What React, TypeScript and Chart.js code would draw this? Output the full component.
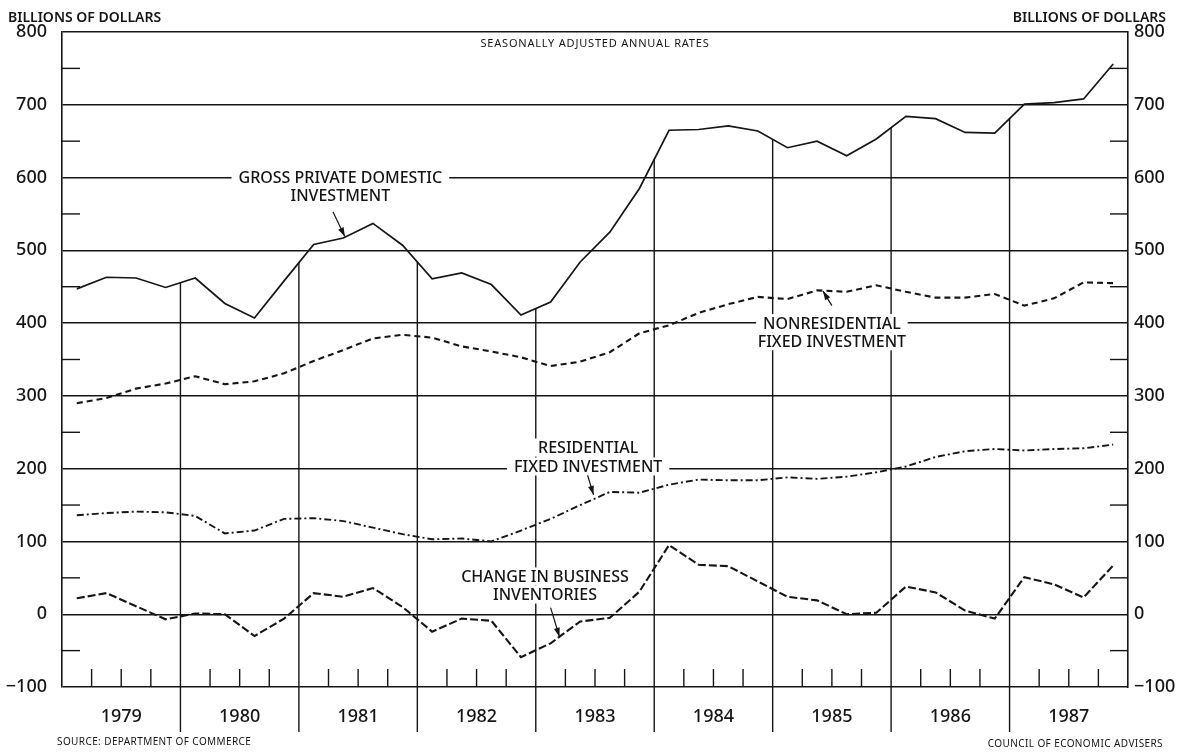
import React, { useEffect, useRef } from "react";
import { Chart, registerables } from "chart.js";

Chart.register(...registerables);

// ---- data (billions of dollars, seasonally adjusted annual rates, quarterly 1979Q1..1987Q4)
const years = ["1979", "1980", "1981", "1982", "1983", "1984", "1985", "1986", "1987"];
const gpdi = [
  447, 463, 462, 449, 462, 427, 407, 458, 508, 517, 537, 507, 461, 469, 453, 411, 429, 484,
  525, 585, 665, 666, 671, 664, 641, 650, 630, 653, 684, 681, 662, 661, 701, 703, 708, 756,
];
const nonres = [
  290, 297, 310, 317, 327, 316, 320, 331, 348, 363, 379, 384, 380, 368, 361, 353, 341, 347,
  360, 386, 397, 414, 426, 436, 433, 445, 443, 452, 443, 435, 435, 440, 424, 434, 456, 455,
];
const resid = [
  136, 139, 141, 140, 135, 111, 115, 131, 132, 128, 119, 110, 103, 104, 100, 115, 131, 150,
  168, 167, 178, 185, 184, 184, 188, 186, 189, 195, 203, 216, 224, 227, 225, 227, 228, 233,
];
const cbi = [
  22, 29, 11, -7, 1, 0, -30, -6, 29, 24, 36, 10, -24, -6, -9, -59, -40, -10, -5, 31, 95, 68,
  66, 45, 24, 19, 0, 2, 38, 30, 5, -6, 51, 41, 23, 67,
];
const yTickValues = [-100, 0, 100, 200, 300, 400, 500, 600, 700, 800];

// annotation anchors in data units (x = quarter index, y = billions)
const noteLabels = [
  { text: "GROSS PRIVATE DOMESTIC", x: 9.4, y: 600 },
  { text: "INVESTMENT", x: 9.4, y: 575 },
  { text: "NONRESIDENTIAL", x: 26.0, y: 400 },
  { text: "FIXED INVESTMENT", x: 26.0, y: 375 },
  { text: "RESIDENTIAL", x: 17.77, y: 229 },
  { text: "FIXED INVESTMENT", x: 17.77, y: 203 },
  { text: "CHANGE IN BUSINESS", x: 16.31, y: 52 },
  { text: "INVENTORIES", x: 16.31, y: 27 },
];
const noteArrows = [
  { from: [9.15, 553], to: [9.55, 519] },
  { from: [26.0, 424], to: [25.7, 444] },
  { from: [17.75, 191], to: [17.95, 164] },
  { from: [16.5, 9], to: [16.8, -31] },
];

const INK = "#151515";
const FONT = "'Noto Sans', 'Open Sans', 'DejaVu Sans', sans-serif";
const QUARTERS = years.length * 4;

const toPoints = (arr: number[]) => arr.map((v, i) => ({ x: i + 0.5, y: v }));

const decorPlugin = {
  id: "decor",
  beforeDatasetsDraw(chart: any) {
    const { ctx, chartArea: ca, scales } = chart;
    const xs = scales.x;
    const ys = scales.y;
    const line = (x1: number, y1: number, x2: number, y2: number) => {
      ctx.beginPath();
      ctx.moveTo(x1, y1);
      ctx.lineTo(x2, y2);
      ctx.stroke();
    };
    ctx.save();
    ctx.strokeStyle = INK;
    ctx.lineWidth = 1.4;
    // minor ticks at the 50s, left and right
    for (let v = -50; v < 800; v += 100) {
      const y = ys.getPixelForValue(v);
      line(ca.left, y, ca.left + 18, y);
      line(ca.right - 18, y, ca.right, y);
    }
    // quarter ticks along the bottom
    for (let q = 1; q < QUARTERS; q++) {
      if (q % 4 === 0) continue;
      const x = xs.getPixelForValue(q);
      line(x, ca.bottom, x, ca.bottom - 18);
    }
    // year separators: from below the axis up to the GPDI line
    for (let k = 1; k < years.length; k++) {
      const q = k * 4;
      const v = (gpdi[q - 1] + gpdi[q]) / 2;
      const x = xs.getPixelForValue(q);
      line(x, ys.getPixelForValue(v), x, ca.bottom + 45);
    }
    // year labels
    ctx.fillStyle = INK;
    ctx.font = `500 18px ${FONT}`;
    ctx.textAlign = "center";
    ctx.textBaseline = "middle";
    years.forEach((yr, k) => {
      ctx.fillText(yr, xs.getPixelForValue(k * 4 + 2), ca.bottom + 30);
    });
    // annotation labels with white backgrounds
    ctx.font = `500 16px ${FONT}`;
    noteLabels.forEach((n) => {
      const x = xs.getPixelForValue(n.x);
      const y = ys.getPixelForValue(n.y);
      const w = ctx.measureText(n.text).width;
      ctx.fillStyle = "#ffffff";
      ctx.fillRect(x - w / 2 - 7, y - 9, w + 14, 18);
      ctx.fillStyle = INK;
      ctx.fillText(n.text, x, y + 1);
    });
    // arrows
    ctx.lineWidth = 1.2;
    noteArrows.forEach((a) => {
      const x1 = xs.getPixelForValue(a.from[0]);
      const y1 = ys.getPixelForValue(a.from[1]);
      const x2 = xs.getPixelForValue(a.to[0]);
      const y2 = ys.getPixelForValue(a.to[1]);
      line(x1, y1, x2, y2);
      const ang = Math.atan2(y2 - y1, x2 - x1);
      const L = 9;
      const W = 3;
      ctx.beginPath();
      ctx.moveTo(x2, y2);
      ctx.lineTo(x2 - L * Math.cos(ang) + W * Math.sin(ang), y2 - L * Math.sin(ang) - W * Math.cos(ang));
      ctx.lineTo(x2 - L * Math.cos(ang) - W * Math.sin(ang), y2 - L * Math.sin(ang) + W * Math.cos(ang));
      ctx.closePath();
      ctx.fill();
    });
    ctx.restore();
  },
  afterDraw(chart: any) {
    const { ctx, chartArea: ca } = chart;
    ctx.save();
    ctx.fillStyle = INK;
    ctx.textBaseline = "middle";
    ctx.font = `600 14px ${FONT}`;
    ctx.textAlign = "left";
    ctx.fillText("BILLIONS OF DOLLARS", 8, 18);
    ctx.textAlign = "right";
    ctx.fillText("BILLIONS OF DOLLARS", 1166, 18);
    ctx.font = `11px ${FONT}`;
    (ctx as any).letterSpacing = "0.8px";
    ctx.textAlign = "center";
    ctx.fillText("SEASONALLY ADJUSTED ANNUAL RATES", (ca.left + ca.right) / 2, ca.top + 12);
    ctx.font = `10px ${FONT}`;
    (ctx as any).letterSpacing = "0.4px";
    ctx.textAlign = "left";
    ctx.fillText("SOURCE: DEPARTMENT OF COMMERCE", 57, 742);
    ctx.textAlign = "right";
    ctx.fillText("COUNCIL OF ECONOMIC ADVISERS", 1163, 744);
    ctx.restore();
  },
};

const fmt = (v: any) => (Number(v) < 0 ? "\u2212" + Math.abs(Number(v)) : String(v));

export default function App() {
  const ref = useRef<HTMLCanvasElement | null>(null);
  useEffect(() => {
    if (!ref.current) return;
    const tickFont = { family: FONT, size: 18, weight: "500" };
    const chart = new Chart(ref.current, {
      type: "line",
      data: {
        datasets: [
          {
            label: "Gross private domestic investment",
            data: toPoints(gpdi),
            borderColor: INK,
            borderWidth: 1.7,
            pointRadius: 0,
            tension: 0,
          },
          {
            label: "Nonresidential fixed investment",
            data: toPoints(nonres),
            borderColor: INK,
            borderWidth: 2.1,
            borderDash: [6, 4],
            pointRadius: 0,
            tension: 0,
          },
          {
            label: "Residential fixed investment",
            data: toPoints(resid),
            borderColor: INK,
            borderWidth: 1.9,
            borderDash: [7, 3, 2, 3],
            pointRadius: 0,
            tension: 0,
          },
          {
            label: "Change in business inventories",
            data: toPoints(cbi),
            borderColor: INK,
            borderWidth: 2.1,
            borderDash: [8, 3],
            pointRadius: 0,
            tension: 0,
          },
        ],
      },
      options: {
        responsive: false,
        animation: false,
        layout: { padding: { top: 32, left: 0, right: 0, bottom: 0 } },
        plugins: { legend: { display: false }, tooltip: { enabled: false }, title: { display: false } },
        scales: {
          x: {
            type: "linear",
            min: 0,
            max: QUARTERS,
            grid: { display: false },
            border: { display: false },
            ticks: { display: false },
            afterFit: (s: any) => {
              s.height = 69;
            },
          },
          y: {
            position: "left",
            min: -100,
            max: 800,
            afterBuildTicks: (s: any) => {
              s.ticks = yTickValues.map((v) => ({ value: v }));
            },
            grid: { color: INK, lineWidth: 1.4, drawTicks: false },
            border: { display: true, color: INK, width: 1.6 },
            ticks: { color: INK, font: tickFont, padding: 15, callback: fmt },
            afterFit: (s: any) => {
              s.width = 62;
            },
          },
          y2: {
            position: "right",
            min: -100,
            max: 800,
            afterBuildTicks: (s: any) => {
              s.ticks = yTickValues.map((v) => ({ value: v }));
            },
            grid: { display: false, drawTicks: false },
            border: { display: true, color: INK, width: 1.6 },
            ticks: { color: INK, font: tickFont, padding: 6, callback: fmt },
            afterFit: (s: any) => {
              s.width = 52;
            },
          },
        },
      },
      plugins: [decorPlugin],
    } as any);
    return () => chart.destroy();
  }, []);
  return (
    <div style={{ position: "absolute", left: 0, top: 0, width: 1180, height: 756, background: "#fff" }}>
      <canvas ref={ref} width={1180} height={756} style={{ display: "block" }} />
    </div>
  );
}
